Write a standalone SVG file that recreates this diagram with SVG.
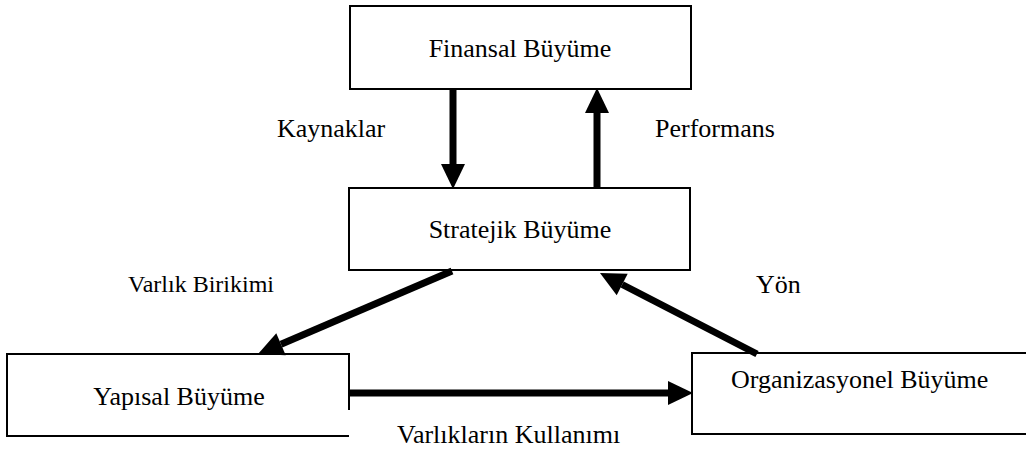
<svg xmlns="http://www.w3.org/2000/svg" width="1026" height="454" viewBox="0 0 1026 454">
<style>
.box{fill:#fff;stroke:#000;stroke-width:2}
.t{font-family:"Liberation Serif","Times New Roman",serif;font-size:26px;fill:#000}
.c{stroke:#000;stroke-width:7;fill:none}
</style>
<defs>
<marker id="ah" markerUnits="userSpaceOnUse" markerWidth="26" markerHeight="26" refX="0" refY="12" orient="auto" overflow="visible">
<path d="M0,0 L25,12 L0,24 Z" fill="#000"/>
</marker>
</defs>
<rect width="1026" height="454" fill="#fff"/>
<g id="finansal">
<rect class="box" x="350" y="6" width="341" height="83"/>
<text class="t" x="520" y="57" text-anchor="middle">Finansal Büyüme</text>
</g>
<g id="stratejik">
<rect class="box" x="349" y="188" width="341" height="82"/>
<text class="t" x="520" y="238" text-anchor="middle">Stratejik Büyüme</text>
</g>
<g id="yapisal">
<path class="box" d="M349,410 L349,354 L7,354 L7,436 L349,436"/>
<text class="t" x="179" y="405" text-anchor="middle">Yapısal Büyüme</text>
</g>
<g id="organizasyonel">
<rect class="box" x="692" y="353" width="340" height="81"/>
<text class="t" x="731" y="388">Organizasyonel Büyüme</text>
</g>
<g id="connectors">
<line class="c" x1="453" y1="89" x2="453" y2="164" marker-end="url(#ah)"/>
<line class="c" x1="597" y1="188" x2="597" y2="113" marker-end="url(#ah)"/>
<line class="c" x1="452" y1="271" x2="281" y2="344.2" marker-end="url(#ah)"/>
<line class="c" x1="757" y1="354" x2="622.2" y2="284.5" marker-end="url(#ah)"/>
<line class="c" x1="349" y1="393" x2="668" y2="393" marker-end="url(#ah)"/>
</g>
<g id="labels">
<text class="t" x="277" y="137">Kaynaklar</text>
<text class="t" x="655" y="137">Performans</text>
<text class="t" x="128" y="292" style="font-size:24px">Varlık Birikimi</text>
<text class="t" x="756" y="293">Yön</text>
<text class="t" x="397" y="443">Varlıkların Kullanımı</text>
</g>
</svg>
